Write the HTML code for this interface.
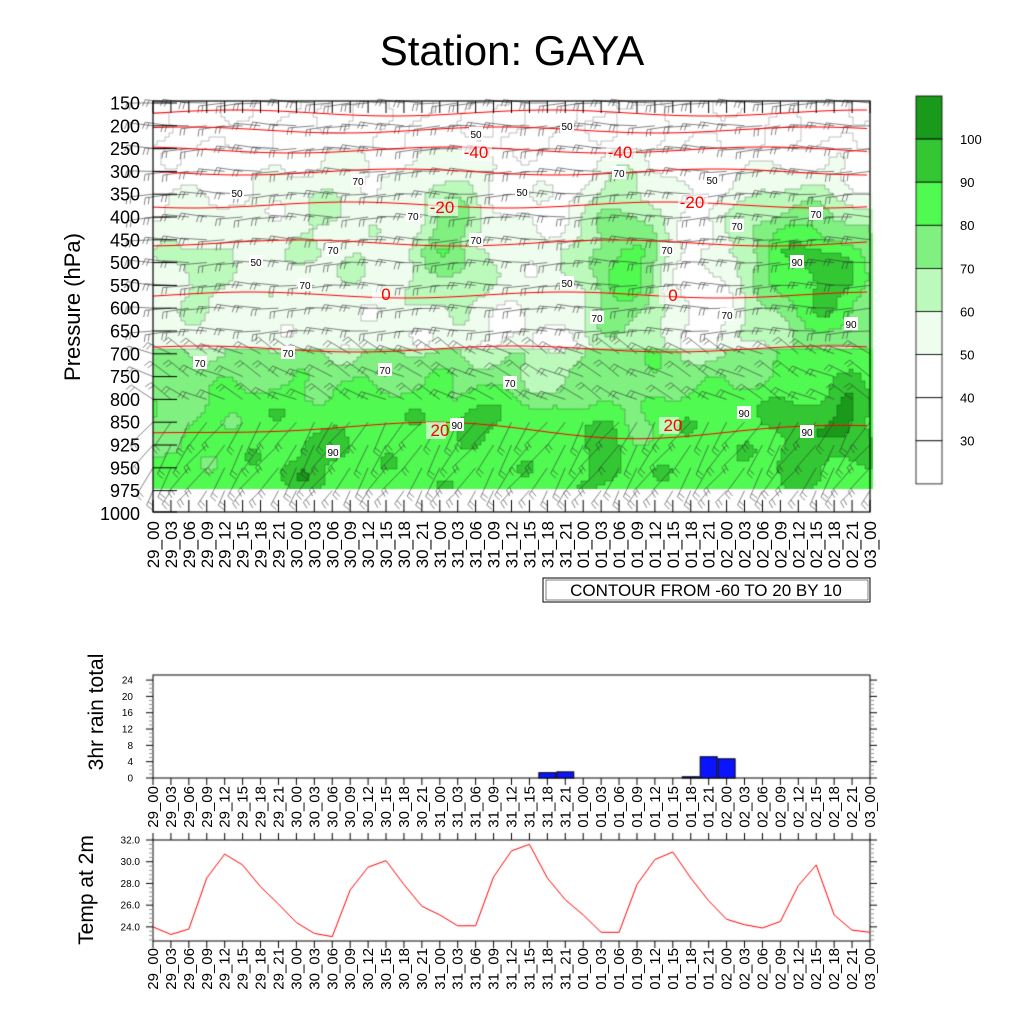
<!DOCTYPE html>
<html><head><meta charset="utf-8"><style>
body{margin:0;background:#fff;width:1024px;height:1024px;overflow:hidden;position:relative;font-family:"Liberation Sans",sans-serif}
canvas{position:absolute;left:0;top:0}
</style></head><body>
<canvas id="c" width="1024" height="1024"></canvas>
<svg id="s" width="1024" height="1024" style="position:absolute;left:0;top:0" xmlns="http://www.w3.org/2000/svg" font-family="Liberation Sans, sans-serif"></svg>
<script>
const X0=153,X1=870,DX=(X1-X0)/40;
const cv=document.getElementById('c'),g=cv.getContext('2d');
const bumps=[[450,230,25,60,25],[625,260,30,70,30],[330,200,40,50,12],[830,290,45,50,35],[780,230,50,40,20],[200,260,30,40,10],[470,330,60,25,-5],[700,280,25,50,-15],[600,430,15,15,12],[480,420,20,10,10],[320,450,20,10,10],[800,440,20,30,12],[850,420,15,30,15],[560,380,30,30,-12],[630,400,15,30,-15],[180,420,30,30,-10],[300,475,15,10,12],[610,470,12,12,10]];
function f(x,y){let b;
 if(y<150)b=38;else if(y<250)b=42+(y-150)*0.1;else if(y<350)b=54;else if(y<410)b=70+(y-350)*0.27;else b=86;
 for(const k of bumps){const dx=(x-k[0])/k[2],dy=(y-k[1])/k[3];b+=k[4]*Math.exp(-(dx*dx+dy*dy)/2);}
 b+=3*Math.sin(x*0.09+y*0.05)+2*Math.cos(x*0.05-y*0.11);return b;}
function col(v){if(v>=100)return'#1a9a1a';if(v>=90)return'#33c833';if(v>=80)return'#50fa50';if(v>=70)return'#80f080';if(v>=60)return'#bcfabc';if(v>=50)return'#effdef';return'#ffffff';}
const S=4;
for(let y=101;y<489;y+=S)for(let x=X0;x<X1;x+=S){g.fillStyle=col(f(x+2,y+2));g.fillRect(x,y,S,S);}
g.strokeStyle='rgba(0,0,0,0.4)';g.lineWidth=0.6;
for(let y=101;y<489;y+=S)for(let x=X0;x<X1-S;x+=S){const a=Math.floor(f(x+2,y+2)/10),b=Math.floor(f(x+6,y+2)/10),c=y+S<489?Math.floor(f(x+2,y+6)/10):a;
 if(a!=b){g.beginPath();g.moveTo(x+S,y);g.lineTo(x+S,y+S);g.stroke();}
 if(a!=c){g.beginPath();g.moveTo(x,y+S);g.lineTo(x+S,y+S);g.stroke();}}
const levY=[];for(let j=0;j<18;j++)levY.push(103+j*22.8);
g.strokeStyle='#333';g.lineWidth=0.6;
for(let i=0;i<41;i++)for(let j=0;j<18;j++){
 const x=X0+i*DX,y=levY[j];let ang,len;
 if(y<340){ang=Math.PI+0.15*Math.sin(i+j);len=26;}else if(y<420){ang=Math.PI+0.5+0.2*Math.sin(i*1.3+j);len=26;}else{ang=Math.PI/2+0.6+0.2*Math.sin(i*1.7+j);len=j==17?16:32;}
 const ex=x+len*Math.cos(ang),ey=y+len*Math.sin(ang);
 g.beginPath();g.moveTo(x,y);g.lineTo(ex,ey);
 for(let k=0;k<2;k++){const px=x+(len-k*4)*Math.cos(ang),py=y+(len-k*4)*Math.sin(ang);const fa=ang-Math.PI/2.4;g.moveTo(px,py);g.lineTo(px+7*Math.cos(fa),py+7*Math.sin(fa));}
 g.stroke();}
g.strokeStyle='#f00';g.lineWidth=1;
[113,130,150,172,205,243,295,349,430].forEach((yy,k)=>{g.beginPath();for(let x=X0;x<=X1;x+=6){const y=yy+3*Math.sin(x*0.02+k)+(k==8?6*Math.sin(x*0.012):0);x==X0?g.moveTo(x,y):g.lineTo(x,y);}g.stroke();});
g.strokeStyle='#000';g.lineWidth=1.2;g.strokeRect(X0,101,X1-X0,411);
g.lineWidth=1;
for(let i=0;i<41;i++){const x=X0+i*DX;g.beginPath();g.moveTo(x,512);g.lineTo(x,500);g.moveTo(x,101);g.lineTo(x,113);g.stroke();}
levY.concat([512]).forEach(y=>{g.beginPath();g.moveTo(X0,y);g.lineTo(X0+24,y);g.stroke();});
const cb=['#1a9a1a','#33c833','#50fa50','#80f080','#bcfabc','#effdef','#fff','#fff','#fff'];
cb.forEach((c,k)=>{g.fillStyle=c;g.fillRect(916,96+k*43.1,26,43.1);g.strokeStyle='#000';g.lineWidth=0.8;g.strokeRect(916,96+k*43.1,26,43.1);});
g.lineWidth=1;g.strokeRect(X0,675,X1-X0,103);
const rain={22:1.3,23:1.5,30:0.3,31:5.2,32:4.7};
for(const k in rain){const x=X0+k*DX-8.5,h=rain[k]*4.08;g.fillStyle='#0a14ff';g.fillRect(x,778-h,17,h);g.strokeStyle='#000';g.strokeRect(x,778-h,17,h);}
for(let v=0;v<=24;v+=1){const y=778-v*4.08;const L=v%4==0?7:4;g.strokeStyle=v%4==0?'#000':'#999';g.beginPath();g.moveTo(X0-L,y);g.lineTo(X0,y);g.moveTo(X1+L,y);g.lineTo(X1,y);g.stroke();}
g.strokeStyle='#000';
for(let i=0;i<41;i++){const x=X0+i*DX;g.beginPath();g.moveTo(x,778);g.lineTo(x,785);g.moveTo(x,840);g.lineTo(x,833);g.stroke();g.beginPath();g.moveTo(x,941);g.lineTo(x,948);g.stroke();}
g.strokeRect(X0,840,X1-X0,101);
const sc=(941-840)/(32-22.7);
for(let v=22.8;v<=32.01;v+=0.4){const y=941-(v-22.7)*sc;const maj=Math.abs(v/2-Math.round(v/2))<0.01;const L=maj?7:4;g.strokeStyle=maj?'#000':'#999';g.beginPath();g.moveTo(X0-L,y);g.lineTo(X0,y);g.moveTo(X1+L,y);g.lineTo(X1,y);g.stroke();}
const T=[24.0,23.3,23.8,28.5,30.7,29.7,27.7,26.1,24.4,23.4,23.1,27.4,29.5,30.1,27.9,25.9,25.1,24.1,24.1,28.6,31.0,31.6,28.5,26.5,25.1,23.5,23.5,27.9,30.2,30.9,28.5,26.4,24.7,24.2,23.9,24.5,27.8,29.7,25.1,23.7,23.5];
g.strokeStyle='#f00';g.beginPath();T.forEach((v,i)=>{const x=X0+i*DX,y=941-(v-22.7)*sc;i?g.lineTo(x,y):g.moveTo(x,y);});g.stroke();
const s=document.getElementById('s');let h='';
h+='<text x="512" y="65" font-size="42" text-anchor="middle">Station: GAYA</text>';
['150','200','250','300','350','400','450','500','550','600','650','700','750','800','850','925','950','975','1000'].forEach((t,j)=>{h+=`<text x="140" y="${103+j*22.8+6.5}" font-size="18" text-anchor="end">${t}</text>`;});
const lab=[];const d=['29','30','31','01','02'];for(let i=0;i<41;i++){const day=i==40?'03':d[Math.floor(i/8)];lab.push(day+'_'+String((i%8)*3).padStart(2,'0'));}
lab.forEach((t,i)=>{const x=X0+i*DX+6;h+=`<text transform="translate(${x},521) rotate(-90)" font-size="17" text-anchor="end">${t}</text>`;h+=`<text transform="translate(${x-1},786) rotate(-90)" font-size="15" text-anchor="end">${t}</text>`;h+=`<text transform="translate(${x-1},948) rotate(-90)" font-size="15" text-anchor="end">${t}</text>`;});
h+='<text transform="translate(80,307) rotate(-90)" font-size="22" text-anchor="middle">Pressure (hPa)</text>';
h+='<text transform="translate(103,712) rotate(-90)" font-size="21" text-anchor="middle">3hr rain total</text>';
h+='<text transform="translate(93,890) rotate(-90)" font-size="21" text-anchor="middle">Temp at 2m</text>';
for(let v=0;v<=24;v+=4)h+=`<text x="133" y="${778-v*4.08+3.5}" font-size="10" text-anchor="end">${v}</text>`;
for(let v=24;v<=32;v+=2)h+=`<text x="140" y="${941-(v-22.7)*sc+3.5}" font-size="10" text-anchor="end">${v.toFixed(1)}</text>`;
[100,90,80,70,60,50,40,30].forEach((v,k)=>{h+=`<text x="960" y="${139+k*43.1+5}" font-size="13">${v}</text>`;});
h+='<rect x="543" y="578" width="327" height="24" fill="#fff" stroke="#000"/><rect x="546" y="580" width="322" height="20" fill="none" stroke="#000" stroke-width="0.5"/>';
h+='<text x="706" y="596" font-size="17" text-anchor="middle">CONTOUR FROM -60 TO 20 BY 10</text>';
[[476,158,'-40'],[620,158,'-40'],[442,213,'-20'],[692,208,'-20'],[386,300,'0'],[673,301,'0'],[440,436,'20'],[673,431,'20']].forEach(a=>{h+=`<rect x="${a[0]-14}" y="${a[1]-14}" width="${a[2].length*10}" height="17" fill="#fff" opacity="0.6"/><text x="${a[0]}" y="${a[1]}" font-size="17" fill="#f00" text-anchor="middle">${a[2]}</text>`;});
[[476,134,'50'],[567,126,'50'],[358,181,'70'],[237,193,'50'],[413,216,'70'],[476,240,'70'],[333,250,'70'],[256,262,'50'],[305,285,'70'],[567,283,'50'],[597,318,'70'],[667,250,'70'],[737,226,'70'],[797,262,'90'],[816,214,'70'],[727,315,'70'],[851,324,'90'],[200,363,'70'],[288,353,'70'],[385,370,'70'],[510,383,'70'],[457,425,'90'],[333,452,'90'],[744,413,'90'],[807,432,'90'],[619,173,'70'],[712,180,'50'],[522,192,'50']].forEach(a=>{h+=`<rect x="${a[0]-7}" y="${a[1]-7}" width="14" height="13" fill="#fff"/><text x="${a[0]}" y="${a[1]+4}" font-size="10" text-anchor="middle">${a[2]}</text>`;});
s.innerHTML=h;
</script>
</body></html>
